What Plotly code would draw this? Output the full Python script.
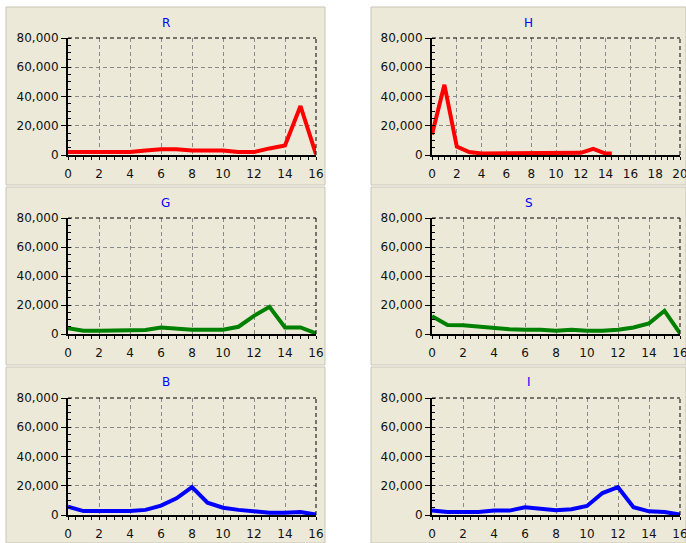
import plotly.graph_objects as go

# ---------------- data ----------------
titles = ["R", "H", "G", "S", "B", "I"]

x16 = list(range(17))
R_vals = [2000, 2000, 2000, 2000, 2000, 3000, 4000, 4000, 3000, 3000, 3000, 2000, 2000, 4500, 6500, 33500, 500]
H_x = [0, 1, 2, 3, 4, 5, 6, 7, 8, 9, 10, 11, 12, 13, 14, 14.5]
H_vals = [14000, 48000, 5800, 2000, 1000, 1000, 1000, 1000, 1500, 1000, 1000, 1500, 1500, 4200, 1000, 1000]
G_vals = [4000, 2300, 2300, 2300, 2300, 2800, 4500, 3600, 3000, 3000, 3000, 5000, 12500, 18700, 4500, 4500, 500]
S_vals = [12300, 6200, 6000, 5000, 4000, 3300, 3000, 3000, 2300, 3000, 2300, 2300, 3000, 4500, 7300, 16000, 500]
B_vals = [5700, 2700, 2700, 2700, 2700, 3500, 6400, 11400, 19000, 8400, 5000, 3500, 2500, 1500, 1500, 2000, 300]
I_vals = [3000, 2000, 2000, 2000, 3000, 3000, 5300, 4000, 3200, 4000, 6200, 15000, 19000, 5300, 2500, 2000, 300]

series_x = [x16, H_x, x16, x16, x16, x16]
series_y = [R_vals, H_vals, G_vals, S_vals, B_vals, I_vals]
x_max = [16, 20, 16, 16, 16, 16]
y_max = 80000
line_colors = ["#FF0000", "#FF0000", "#008000", "#008000", "#0000FF", "#0000FF"]

# ---------------- layout geometry (pixels) ----------------
W, H = 686, 543
def px_x(p):
    return p / W
def px_y(p):
    return 1 - p / H

col_plot = [(68, 316), (432, 680)]
row_plot = [(38, 155), (218, 334), (398, 515)]
col_panel = [(6, 325), (371, 686)]
row_panel = [(7, 185), (187, 365), (367, 543)]
title_y = [23, 203, 382]

fig = go.Figure()
font_family = "DejaVu Sans, Verdana, sans-serif"
layout = dict(
    template="none",
    width=W, height=H, margin=dict(l=0, r=0, t=0, b=0, pad=0, autoexpand=False),
    paper_bgcolor="white", plot_bgcolor="rgba(0,0,0,0)",
    showlegend=False, font=dict(family=font_family, size=11, color="#111111"),
)
shapes = []
annotations = []

for i in range(6):
    r, c = divmod(i, 2)
    idx = "" if i == 0 else str(i + 1)
    xa, ya = "xaxis" + idx, "yaxis" + idx
    xr, yr = "x" + idx, "y" + idx

    # panel background
    shapes.append(dict(type="rect", xref="paper", yref="paper", layer="below",
                       x0=px_x(col_panel[c][0]), x1=px_x(col_panel[c][1]),
                       y0=px_y(row_panel[r][1]), y1=px_y(row_panel[r][0]),
                       fillcolor="#ECE9D8", line=dict(color="#C9C5B5", width=1)))

    fig.add_trace(go.Scatter(x=series_x[i], y=series_y[i], mode="lines",
                             line=dict(color=line_colors[i], width=4),
                             xaxis=xr, yaxis=yr, hoverinfo="skip"))

    layout[xa] = dict(
        domain=[px_x(col_plot[c][0]), px_x(col_plot[c][1])],
        anchor=yr, range=[0, x_max[i]], dtick=2, tick0=0, automargin=False,
        showline=True, linecolor="black", linewidth=2,
        ticks="outside", ticklen=3, tickcolor="black",
        minor=dict(dtick=0.5, ticks="outside", ticklen=3, tickcolor="black", showgrid=False),
        showgrid=True, gridcolor="#8a8a8a", griddash="4px,3px", gridwidth=1,
        zeroline=False, tickfont=dict(size=12, color="#111111"), fixedrange=True,
        ticklabeloverflow="allow", ticklabelstandoff=4,
    )
    layout[ya] = dict(
        domain=[px_y(row_plot[r][1]), px_y(row_plot[r][0])],
        anchor=xr, range=[0, y_max], dtick=20000, tick0=0, tickformat=",", automargin=False,
        showline=True, linecolor="black", linewidth=2,
        ticks="outside", ticklen=5, tickcolor="black",
        minor=dict(dtick=5000, ticks="inside", ticklen=3, tickcolor="black", showgrid=False),
        showgrid=True, gridcolor="#8a8a8a", griddash="4px,3px", gridwidth=1,
        zeroline=False, tickfont=dict(size=12, color="#111111"), fixedrange=True,
        ticklabeloverflow="allow",
    )

    # dashed top and right borders
    shapes.append(dict(type="line", xref=xr + " domain", yref=yr + " domain",
                       x0=0, x1=1, y0=1, y1=1, line=dict(color="black", width=1, dash="4px,3px")))
    shapes.append(dict(type="line", xref=xr + " domain", yref=yr + " domain",
                       x0=1, x1=1, y0=0, y1=1, line=dict(color="black", width=1, dash="4px,3px")))

    annotations.append(dict(text=titles[i], xref="paper", yref="paper",
                            x=px_x((col_panel[c][0] + col_panel[c][1]) / 2), y=px_y(title_y[r]),
                            showarrow=False, xanchor="center", yanchor="middle",
                            font=dict(size=12, color="#0000FF", family=font_family)))

layout["shapes"] = shapes
layout["annotations"] = annotations
fig.update_layout(**layout)
fig.write_html(
    "out.html",
    config={"displayModeBar": False, "staticPlot": True},
    post_script="document.body.style.margin='0';document.body.style.overflow='hidden';",
)
